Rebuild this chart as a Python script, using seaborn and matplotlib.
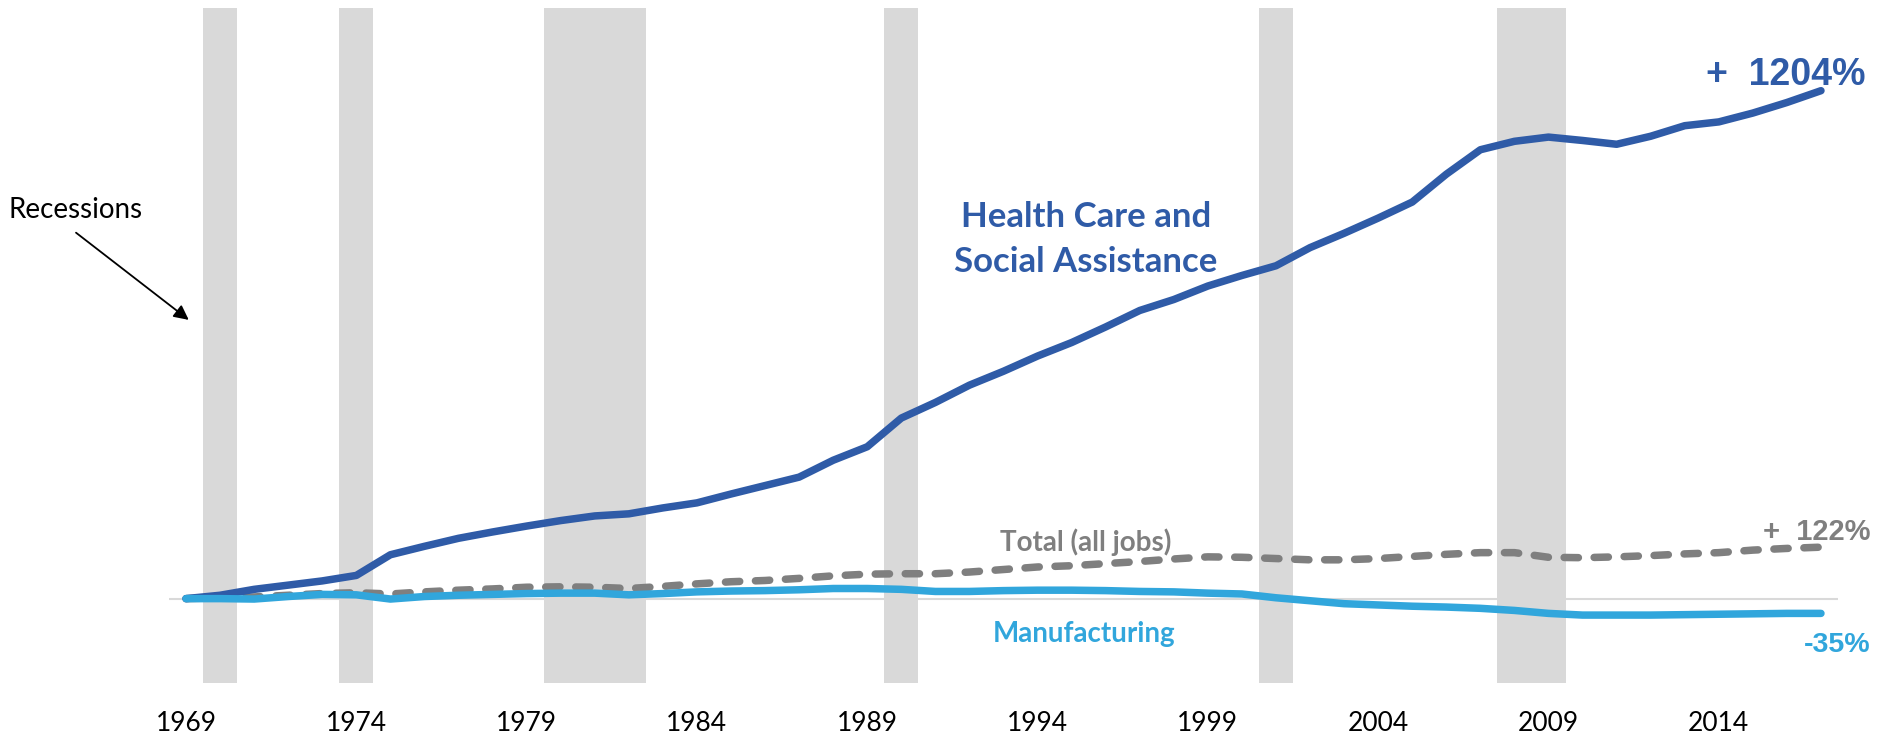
import matplotlib
matplotlib.use("Agg")
import matplotlib.pyplot as plt
import seaborn as sns
import numpy as np

# Annual employment change since 1969, in percent
years = list(range(1969, 2018))

health_care = [0, 8, 22, 32, 42, 55, 104, 124, 143, 158,
               172, 185, 196, 201, 215, 227, 248, 268, 288, 328,
               360, 428, 465, 506, 539, 575, 607, 644, 683, 709,
               741, 766, 789, 832, 866, 902, 940, 1006, 1064, 1084,
               1094, 1086, 1077, 1096, 1121, 1130, 1151, 1176, 1204]

total_jobs = [0, 2, 4, 8, 12, 14, 11, 16, 20, 23,
              27, 28, 27, 24, 29, 35, 40, 43, 48, 54,
              58, 59, 59, 63, 69, 75, 78, 83, 88, 94,
              99, 98, 95, 92, 92, 95, 100, 105, 109, 109,
              98, 97, 99, 102, 106, 109, 115, 119, 122]

manufacturing = [0, 0, -1, 5, 10, 9, -1, 5, 8, 10,
                 12, 13, 13, 9, 12, 16, 18, 19, 21, 24,
                 24, 22, 17, 17, 19, 20, 20, 19, 17, 16,
                 13, 11, 2, -5, -12, -15, -18, -20, -23, -28,
                 -35, -39, -39, -39, -38, -37, -36, -35, -35]

recession_years = [1970, 1974, 1980, 1981, 1982, 1990, 2001, 2008, 2009]

tick_years = [1969, 1974, 1979, 1984, 1989, 1994, 1999, 2004, 2009, 2014]
tick_labels = [str(y) for y in tick_years]

end_labels = ["+  1204%", "+  122%", "-35%"]

HEALTH = "#2F5BA7"
TOTAL = "#7F7F7F"
MANUF = "#31A6DC"
SHADE = "#D9D9D9"

sns.set_theme(style="white")
plt.rcParams["font.family"] = ["Lato", "DejaVu Sans"]

fig = plt.figure(figsize=(18.92, 7.37), dpi=100)
ax = fig.add_axes([169 / 1892, 1 - 683 / 737, (1838 - 169) / 1892, 675 / 737])

# recession shading, one band per recession year
for yr in recession_years:
    ax.axvspan(yr - 0.5, yr + 0.5, ymin=0, ymax=1, color=SHADE, lw=0, zorder=0)

ax.axhline(0, color=SHADE, lw=1.5, zorder=1)

lw = 5.4
sns.lineplot(x=years, y=total_jobs, ax=ax, color=TOTAL, linewidth=lw,
             linestyle=(0, (1.9, 2.1)), dash_capstyle="round", zorder=3)
sns.lineplot(x=years, y=health_care, ax=ax, color=HEALTH, linewidth=lw,
             solid_capstyle="round", solid_joinstyle="round", zorder=4)
sns.lineplot(x=years, y=manufacturing, ax=ax, color=MANUF, linewidth=lw,
             solid_capstyle="round", solid_joinstyle="round", zorder=5)

ax.set_xlim(1968.5, 2017.5)
ax.set_ylim(-200, 1400)
ax.set_xticks(tick_years)
ax.set_xticklabels(tick_labels)
ax.set_yticks([])
ax.set_xlabel("")
ax.set_ylabel("")
ax.tick_params(axis="x", length=0, pad=20.5, labelsize=19, labelcolor="black")
for s in ax.spines.values():
    s.set_visible(False)
ax.grid(False)

# series labels
ax.text(1995.42, 881, "Health Care and", ha="center", va="baseline",
        fontsize=25, fontweight="bold", color=HEALTH)
ax.text(1995.42, 775, "Social Assistance", ha="center", va="baseline",
        fontsize=25, fontweight="bold", color=HEALTH)
ax.text(1995.4, 114, "Total (all jobs)", ha="center", va="baseline",
        fontsize=20, fontweight="bold", color=TOTAL)
ax.text(1995.37, -103.5, "Manufacturing", ha="center", va="baseline",
        fontsize=20, fontweight="bold", color=MANUF)

# end-of-series changes
ax.text(2018.3, 1218, end_labels[0], ha="right", va="baseline",
        fontsize=27, fontweight="bold", color=HEALTH, family="Liberation Sans")
ax.text(2018.46, 138, end_labels[1], ha="right", va="baseline",
        fontsize=21, fontweight="bold", color=TOTAL, family="Liberation Sans")
ax.text(2018.46, -127, end_labels[2], ha="right", va="baseline",
        fontsize=20.5, fontweight="bold", color=MANUF, family="Liberation Sans")

# recession pointer
ax.text(1963.8, 902, "Recessions", ha="left", va="baseline",
        fontsize=20, color="black")
ax.annotate("", xy=(1969.08, 660.7), xytext=(1965.77, 867.4),
            arrowprops=dict(arrowstyle="-|>", color="black", lw=1.3,
                            mutation_scale=22, shrinkA=0, shrinkB=0),
            annotation_clip=False)

fig.savefig("out.png", dpi=100)
